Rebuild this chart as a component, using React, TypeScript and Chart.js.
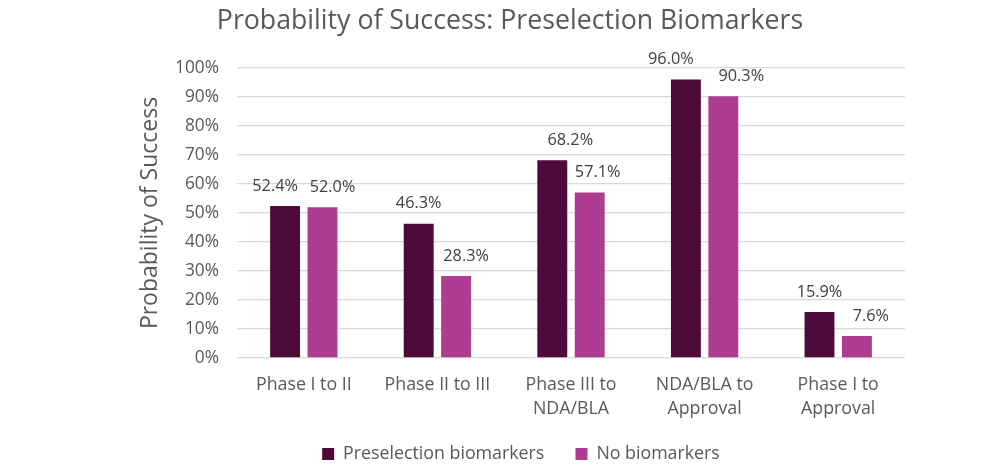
import { useEffect, useRef } from "react";
import { Chart, registerables } from "chart.js";

Chart.register(...registerables);

const chartTitle = "Probability of Success: Preselection Biomarkers";
const categories: string[][] = [
  ["Phase I to II"],
  ["Phase II to III"],
  ["Phase III to", "NDA/BLA"],
  ["NDA/BLA to", "Approval"],
  ["Phase I to", "Approval"],
];
const preselection = [52.4, 46.3, 68.2, 96.0, 15.9];
const noBiomarkers = [52.0, 28.3, 57.1, 90.3, 7.6];
const seriesNames = ["Preselection biomarkers", "No biomarkers"];
const yMin = 0;
const yMax = 100;
const yStep = 10;

// Horizontal nudges (px) for the value labels, one list per series.
const labelShift = [
  [-10, 0, 18, -15, 0],
  [10, 10, 8, 18, 14],
];

const FONT = "'Open Sans', 'Noto Sans', sans-serif";
const TEXT = "#595959";

// Chart heading, centred a little left of the plot's centre.
const heading = {
  id: "heading",
  afterDraw(chart: Chart) {
    const ctx = chart.ctx;
    ctx.save();
    ctx.font = `26.7px ${FONT}`;
    ctx.fillStyle = TEXT;
    ctx.textAlign = "center";
    ctx.textBaseline = "middle";
    ctx.fillText(chartTitle, 510, 21);
    ctx.restore();
  },
};

// Writes each bar's value just above its top.
const valueLabels = {
  id: "valueLabels",
  afterDatasetsDraw(chart: Chart) {
    const ctx = chart.ctx;
    ctx.save();
    ctx.font = `16.3px ${FONT}`;
    ctx.fillStyle = "#404040";
    ctx.textAlign = "center";
    ctx.textBaseline = "middle";
    chart.data.datasets.forEach((ds, i) => {
      const meta = chart.getDatasetMeta(i);
      meta.data.forEach((el: any, j: number) => {
        const v = ds.data[j] as number;
        ctx.fillText(v.toFixed(1) + "%", el.x + labelShift[i][j], el.y - 20);
      });
    });
    ctx.restore();
  },
};

export default function App() {
  const ref = useRef<HTMLCanvasElement>(null);

  useEffect(() => {
    document.body.style.margin = "0";
    const chart = new Chart(ref.current!, {
      type: "bar",
      data: {
        labels: categories,
        datasets: [
          {
            label: seriesNames[0],
            data: preselection,
            backgroundColor: "#4E0B3A",
            categoryPercentage: 0.56,
            barPercentage: 0.8,
          },
          {
            label: seriesNames[1],
            data: noBiomarkers,
            backgroundColor: "#AE3C92",
            categoryPercentage: 0.56,
            barPercentage: 0.8,
          },
        ],
      },
      options: {
        responsive: false,
        animation: false,
        layout: { padding: { left: 137, right: 90, top: 68, bottom: 0.2 } },
        plugins: {
          title: { display: false },
          legend: {
            position: "bottom",
            labels: {
              boxWidth: 12,
              boxHeight: 12,
              padding: 22,
              color: TEXT,
              font: { family: FONT, size: 17.8 },
              generateLabels: (c: Chart) => {
                const items = Chart.defaults.plugins.legend.labels.generateLabels(c);
                // extra room after the first entry
                items[0].text = items[0].text + "  ";
                return items;
              },
            },
          },
          tooltip: { enabled: false },
        },
        scales: {
          x: {
            grid: { display: false, drawTicks: false },
            border: { display: false },
            ticks: {
              color: TEXT,
              padding: 14,
              font: { family: FONT, size: 17.8, lineHeight: 1.4 },
              maxRotation: 0,
            },
            afterFit: (s: any) => {
              s.height = 65;
            },
          },
          y: {
            min: yMin,
            max: yMax,
            border: { display: false },
            grid: { color: "#D9D9D9", lineWidth: 1.3, drawTicks: false },
            ticks: {
              stepSize: yStep,
              padding: 18,
              color: TEXT,
              font: { family: FONT, size: 17.3 },
              callback: (v: any) => v + "%",
            },
            title: {
              display: true,
              text: "Probability of Success",
              color: TEXT,
              font: { family: FONT, size: 23 },
              padding: 0,
            },
            afterFit: (s: any) => {
              s.width = 100;
            },
          },
        },
      },
      plugins: [valueLabels, heading],
    });
    return () => chart.destroy();
  }, []);

  return (
    <div style={{ width: 995, height: 473 }}>
      <canvas ref={ref} width={995} height={473} style={{ display: "block" }} />
    </div>
  );
}
